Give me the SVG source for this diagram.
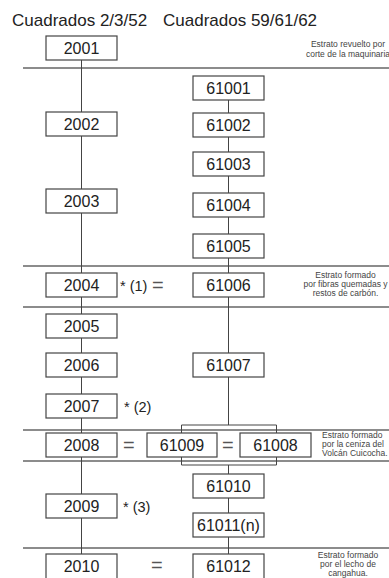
<svg xmlns="http://www.w3.org/2000/svg" width="389" height="578" viewBox="0 0 389 578">
<style>
text{font-family:"Liberation Sans",Arial,sans-serif;fill:#222}
.title{font-size:17px}
.b{fill:#fff;stroke:#444;stroke-width:1.2}
.t{font-size:16px;text-anchor:middle}
.note{font-size:8.5px;fill:#444}
.c{text-anchor:middle}
.star{font-size:14.5px}
.eq{font-size:20px;fill:#555}
.div{stroke:#666;stroke-width:1.3;fill:none}
.ln{stroke:#444;stroke-width:1;fill:none}
</style>
<rect width="389" height="578" fill="#fff"/>
<text class="title" x="12" y="26">Cuadrados 2/3/52</text>
<text class="title" x="163" y="26">Cuadrados 59/61/62</text>

<g id="dividers">
<line class="div" x1="23" y1="68" x2="389" y2="68"/>
<line class="div" x1="23" y1="266" x2="389" y2="266"/>
<line class="div" x1="23" y1="307" x2="389" y2="307"/>
<line class="div" x1="23" y1="430" x2="389" y2="430"/>
<line class="div" x1="23" y1="461" x2="389" y2="461"/>
<line class="div" x1="23" y1="548" x2="389" y2="548"/>
</g>

<g id="connectors">
<path class="ln" d="M81.5 60V112M81.5 136V189M81.5 213V273M81.5 297V314M81.5 338V353M81.5 377V394M81.5 418V433M81.5 457V494M81.5 518V554"/>
<path class="ln" d="M228.5 100V113M228.5 137V152M228.5 176V193M228.5 217V234M228.5 258V273M228.5 297V353M228.5 377V425M228.5 465V474M228.5 498V513M228.5 537V554"/>
<path class="ln" d="M181.5 433V425H276.5V433M181.5 457V465H276.5V457"/>
</g>

<g id="n2001"><rect class="b" x="46" y="36" width="71" height="24"/><text class="t" x="81.5" y="54">2001</text></g>
<g id="n2002"><rect class="b" x="46" y="112" width="71" height="24"/><text class="t" x="81.5" y="130">2002</text></g>
<g id="n2003"><rect class="b" x="46" y="189" width="71" height="24"/><text class="t" x="81.5" y="207">2003</text></g>
<g id="n2004"><rect class="b" x="46" y="273" width="71" height="24"/><text class="t" x="81.5" y="291">2004</text></g>
<g id="n2005"><rect class="b" x="46" y="314" width="71" height="24"/><text class="t" x="81.5" y="332">2005</text></g>
<g id="n2006"><rect class="b" x="46" y="353" width="71" height="24"/><text class="t" x="81.5" y="371">2006</text></g>
<g id="n2007"><rect class="b" x="46" y="394" width="71" height="24"/><text class="t" x="81.5" y="412">2007</text></g>
<g id="n2008"><rect class="b" x="46" y="433" width="71" height="24"/><text class="t" x="81.5" y="451">2008</text></g>
<g id="n2009"><rect class="b" x="46" y="494" width="71" height="24"/><text class="t" x="81.5" y="512">2009</text></g>
<g id="n2010"><rect class="b" x="46" y="554" width="71" height="26"/><text class="t" x="81.5" y="572">2010</text></g>

<g id="n61001"><rect class="b" x="193" y="76" width="71" height="24"/><text class="t" x="228.5" y="94">61001</text></g>
<g id="n61002"><rect class="b" x="193" y="113" width="71" height="24"/><text class="t" x="228.5" y="131">61002</text></g>
<g id="n61003"><rect class="b" x="193" y="152" width="71" height="24"/><text class="t" x="228.5" y="170">61003</text></g>
<g id="n61004"><rect class="b" x="193" y="193" width="71" height="24"/><text class="t" x="228.5" y="211">61004</text></g>
<g id="n61005"><rect class="b" x="193" y="234" width="71" height="24"/><text class="t" x="228.5" y="252">61005</text></g>
<g id="n61006"><rect class="b" x="193" y="273" width="71" height="24"/><text class="t" x="228.5" y="291">61006</text></g>
<g id="n61007"><rect class="b" x="193" y="353" width="71" height="24"/><text class="t" x="228.5" y="371">61007</text></g>
<g id="n61009"><rect class="b" x="147" y="433" width="70" height="24"/><text class="t" x="182" y="451">61009</text></g>
<g id="n61008"><rect class="b" x="240" y="433" width="71" height="24"/><text class="t" x="275.5" y="451">61008</text></g>
<g id="n61010"><rect class="b" x="193" y="474" width="71" height="24"/><text class="t" x="228.5" y="492">61010</text></g>
<g id="n61011"><rect class="b" x="193" y="513" width="71" height="24"/><text class="t" x="228.5" y="531">61011(n)</text></g>
<g id="n61012"><rect class="b" x="193" y="554" width="71" height="26"/><text class="t" x="228.5" y="572">61012</text></g>

<g id="marks">
<text class="star" x="120" y="291">* (1)</text>
<text class="eq" x="152" y="292">=</text>
<text class="star" x="124" y="412">* (2)</text>
<text class="star" x="123" y="512">* (3)</text>
<text class="eq" x="123" y="452">=</text>
<text class="eq" x="222" y="452">=</text>
<text class="eq" x="151" y="572">=</text>
</g>

<g id="notes">
<text class="note c" x="348" y="46.5">Estrato revuelto por</text>
<text class="note c" x="348" y="56.5">corte de la maquinaria</text>
<text class="note c" x="345.5" y="278">Estrato formado</text>
<text class="note c" x="345.5" y="287">por  fibras quemadas y</text>
<text class="note c" x="345.5" y="296">restos de carbón.</text>
<text class="note" x="322" y="438">Estrato formado</text>
<text class="note" x="322" y="447">por la ceniza del</text>
<text class="note" x="322" y="456">Volcán Cuicocha.</text>
<text class="note c" x="348" y="557.5">Estrato formado</text>
<text class="note c" x="348" y="566.5">por el lecho de</text>
<text class="note c" x="348" y="576">cangahua.</text>
</g>
</svg>
